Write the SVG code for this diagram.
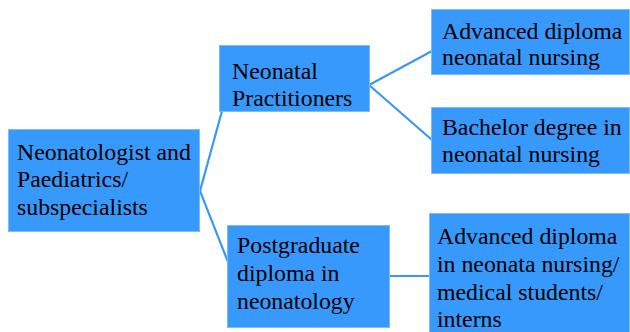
<svg xmlns="http://www.w3.org/2000/svg" width="630" height="332" viewBox="0 0 630 332">
<style>
.box{fill:#3899FC;stroke:#7DBBFA;stroke-width:1}
.t{font-family:"Liberation Serif","Times New Roman",serif;font-size:23.8px;fill:#000}
.c{stroke:#3A98F5;stroke-width:2.2;fill:none}
</style>
<rect width="630" height="332" fill="#fff"/>
<g id="connectors">
<polyline class="c" points="222,111 200,191 228,262"/>
<line class="c" x1="369" y1="85" x2="432" y2="51"/>
<line class="c" x1="369" y1="85" x2="432" y2="140"/>
<line class="c" x1="389" y1="276" x2="430" y2="276"/>
</g>
<g id="root">
<rect class="box" x="8.5" y="129.5" width="191" height="102"/>
<text class="t"><tspan x="17" y="160">Neonatologist and</tspan><tspan x="17" y="187">Paediatrics/</tspan><tspan x="17" y="215">subspecialists</tspan></text>
</g>
<g id="practitioners">
<rect class="box" x="219.5" y="45.5" width="150" height="66"/>
<text class="t"><tspan x="232" y="79">Neonatal</tspan><tspan x="232" y="106">Practitioners</tspan></text>
</g>
<g id="adv-diploma">
<rect class="box" x="431.5" y="9.5" width="198" height="65"/>
<text class="t"><tspan x="442" y="39">Advanced diploma</tspan><tspan x="442" y="65">neonatal nursing</tspan></text>
</g>
<g id="bachelor">
<rect class="box" x="431.5" y="107.5" width="198" height="66"/>
<text class="t"><tspan x="442" y="135">Bachelor degree in</tspan><tspan x="442" y="162">neonatal nursing</tspan></text>
</g>
<g id="postgraduate">
<rect class="box" x="227.5" y="225.5" width="162" height="102"/>
<text class="t"><tspan x="237" y="253">Postgraduate</tspan><tspan x="237" y="281">diploma in</tspan><tspan x="237" y="309">neonatology</tspan></text>
</g>
<g id="adv-diploma-2">
<rect class="box" x="429.5" y="213.5" width="200" height="125"/>
<text class="t"><tspan x="437" y="244">Advanced diploma</tspan><tspan x="437" y="272">in neonata nursing/</tspan><tspan x="437" y="300">medical students/</tspan><tspan x="437" y="327">interns</tspan></text>
</g>
</svg>
